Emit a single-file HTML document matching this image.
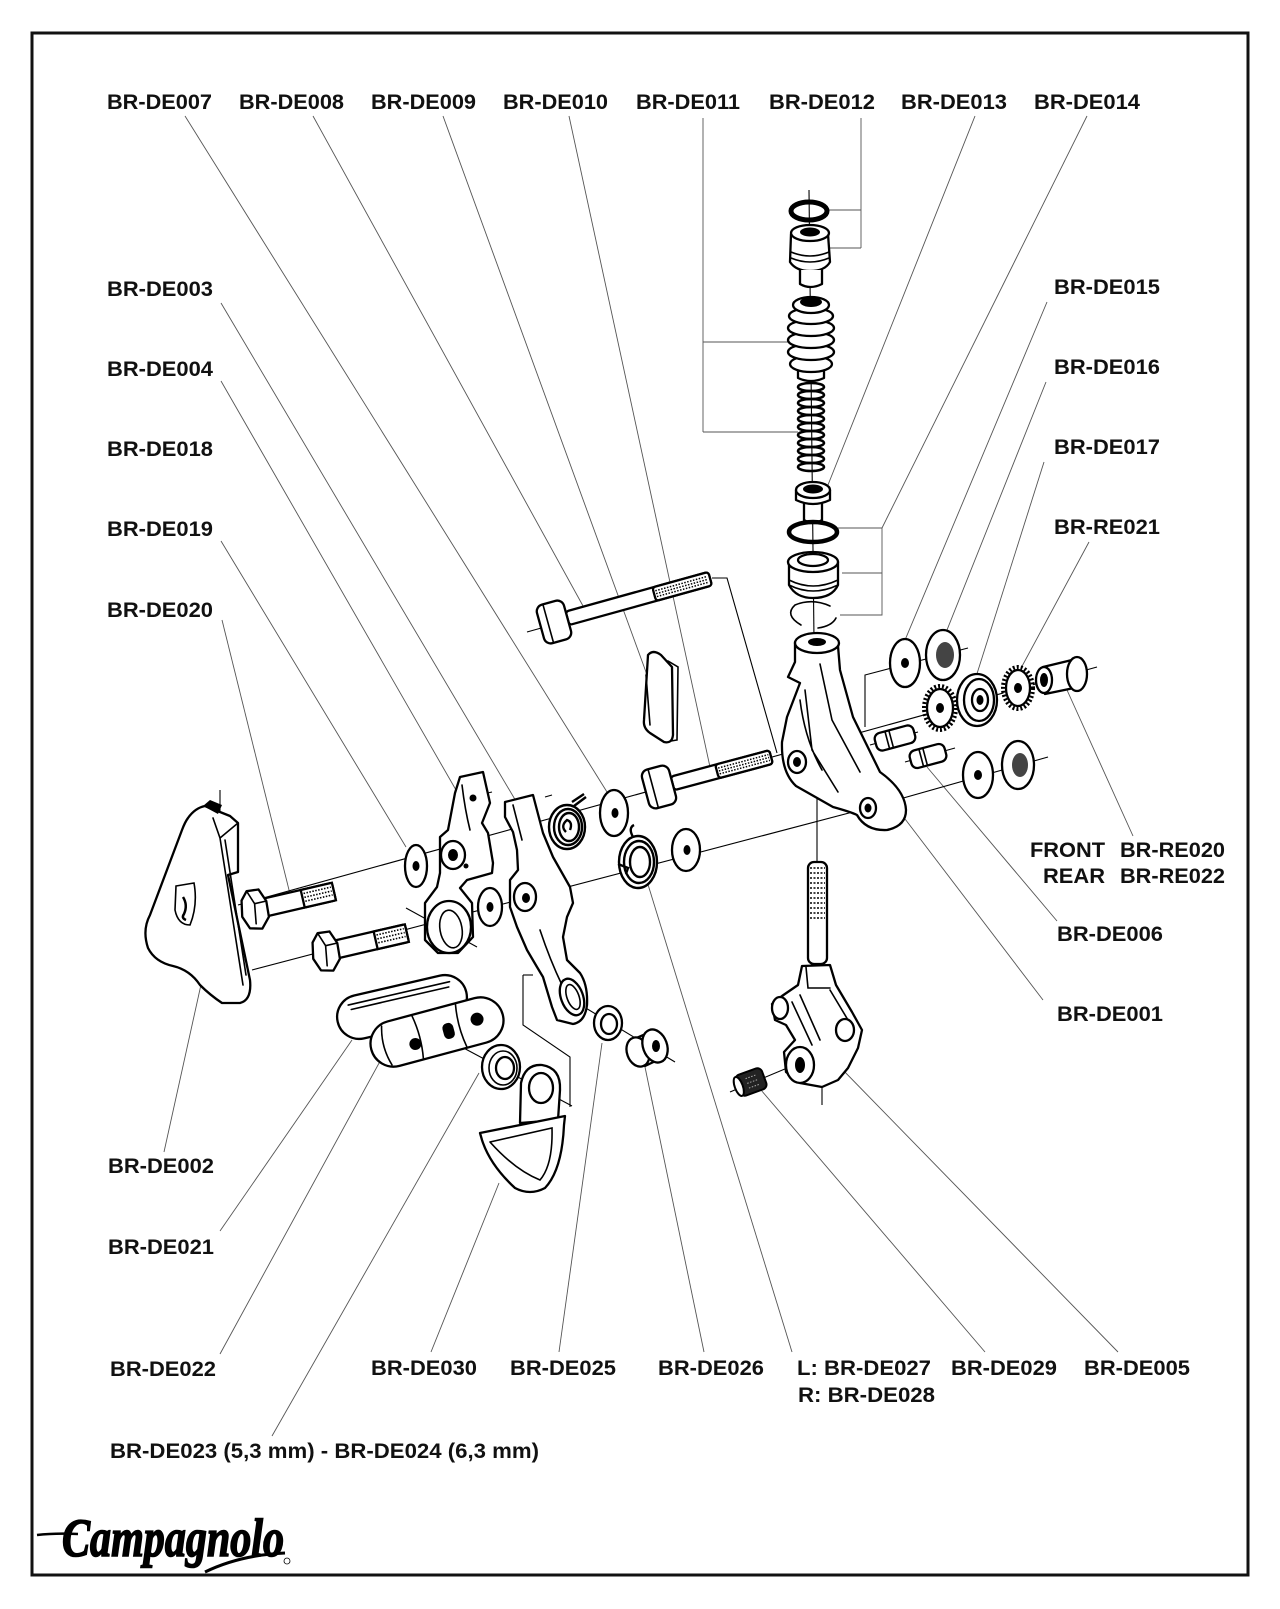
<!DOCTYPE html>
<html><head><meta charset="utf-8"><style>
html,body{margin:0;padding:0;background:#fff}
svg{display:block}
.l{font-family:"Liberation Sans",Arial,sans-serif;font-weight:bold;font-size:21px;fill:#111}
.p{fill:#fff;stroke:#000;stroke-width:2.3;stroke-linejoin:round;stroke-linecap:round}
.t{fill:none;stroke:#000;stroke-width:1.6;stroke-linecap:round}
.k{fill:#000}
.ld{fill:none;stroke:#555;stroke-width:0.9}
.ax{fill:none;stroke:#000;stroke-width:1.1}
</style></head><body>
<svg width="1280" height="1609" viewBox="0 0 1280 1609" xmlns="http://www.w3.org/2000/svg">
<rect x="0" y="0" width="1280" height="1609" fill="#fff"/>
<rect x="32" y="33" width="1216" height="1542" fill="none" stroke="#111" stroke-width="3"/>

<!-- ===== leader lines ===== -->
<g class="ld">
<line x1="185" y1="116" x2="612" y2="800"/>
<line x1="313" y1="116" x2="588" y2="615"/>
<line x1="443" y1="116" x2="650" y2="683"/>
<line x1="569" y1="116" x2="710" y2="767"/>
<polyline points="703,118 703,432"/>
<line x1="703" y1="342" x2="790" y2="342"/>
<line x1="703" y1="432" x2="798" y2="432"/>
<polyline points="861,118 861,248"/>
<line x1="828" y1="210" x2="861" y2="210"/>
<line x1="828" y1="248" x2="861" y2="248"/>
<line x1="975" y1="116" x2="820" y2="505"/>
<line x1="1087" y1="116" x2="882" y2="528"/>
<polyline points="838,528 882,528 882,615 840,615"/>
<line x1="842" y1="573" x2="882" y2="573"/>
<line x1="1047" y1="302" x2="900" y2="652"/>
<line x1="1046" y1="382" x2="943" y2="640"/>
<line x1="1044" y1="462" x2="975" y2="680"/>
<line x1="1089" y1="542" x2="1020" y2="670"/>
<line x1="1133" y1="836" x2="1067" y2="690"/>
<line x1="1057" y1="921" x2="927" y2="767"/>
<line x1="1043" y1="1000" x2="902" y2="815"/>
<line x1="221" y1="303" x2="523" y2="813"/>
<line x1="221" y1="381" x2="456" y2="790"/>
<line x1="221" y1="541" x2="406" y2="847"/>
<line x1="222" y1="620" x2="291" y2="898"/>
<line x1="164" y1="1152" x2="206" y2="962"/>
<line x1="220" y1="1231" x2="352" y2="1040"/>
<line x1="220" y1="1354" x2="390" y2="1043"/>
<line x1="272" y1="1436" x2="479" y2="1073"/>
<line x1="431" y1="1352" x2="499" y2="1183"/>
<line x1="559" y1="1352" x2="602" y2="1043"/>
<line x1="704" y1="1352" x2="645" y2="1067"/>
<line x1="792" y1="1352" x2="646" y2="878"/>
<line x1="985" y1="1352" x2="761" y2="1090"/>
<line x1="1118" y1="1352" x2="840" y2="1067"/>
</g>

<!-- ===== axis / guide lines ===== -->
<g class="ax">
<line x1="809" y1="190" x2="814" y2="640"/>
<line x1="817" y1="790" x2="817" y2="865"/>
<line x1="238" y1="905" x2="1097" y2="667"/>
<line x1="252" y1="970" x2="868" y2="808"/>
<line x1="868" y1="808" x2="1048" y2="757"/>
<polyline points="865,727 865,675 968,648"/>
<polyline points="712,578 727,578 777,753"/>
<line x1="527" y1="632" x2="552" y2="625"/>
<line x1="220" y1="790" x2="220" y2="815"/>
<line x1="870" y1="745" x2="918" y2="732"/>
<line x1="905" y1="762" x2="955" y2="748"/>
<polyline points="523,975 523,1025 570,1057 570,1107"/>
<line x1="523" y1="975" x2="533" y2="975"/>
<line x1="458" y1="1045" x2="572" y2="1106"/>
<line x1="556" y1="990" x2="675" y2="1062"/>
<line x1="730" y1="1092" x2="792" y2="1066"/>
<line x1="822" y1="1085" x2="822" y2="1105"/>
<line x1="406" y1="908" x2="477" y2="947"/>
<line x1="479" y1="795" x2="492" y2="792"/>
<line x1="545" y1="797" x2="552" y2="795"/>
</g>

<!-- ===== top spring column ===== -->
<ellipse cx="809" cy="211" rx="18" ry="9" fill="none" stroke="#000" stroke-width="5"/>
<path class="p" d="M791,234 L790,262 Q796,271 810,271 Q825,271 830,262 L828,234 Z"/>
<path class="p" d="M800,270 L800,284 Q810,290 822,284 L822,270"/>
<ellipse class="p" cx="810" cy="233" rx="19" ry="8"/>
<ellipse class="k" cx="810" cy="232" rx="10" ry="4.5"/>
<path class="t" d="M791,252 Q810,260 829,252 M791,258 Q810,266 829,258"/>
<!-- bellows -->
<path class="p" d="M798,368 L798,378 Q811,384 824,378 L824,368 Z"/>
<g class="p" stroke-width="2.4">
<ellipse cx="811" cy="364" rx="21" ry="8"/>
<ellipse cx="811" cy="352" rx="23" ry="8"/>
<ellipse cx="811" cy="340" rx="23" ry="8"/>
<ellipse cx="811" cy="328" rx="23" ry="8"/>
<ellipse cx="811" cy="316" rx="22" ry="8"/>
<ellipse cx="811" cy="305" rx="18" ry="8"/>
</g>
<ellipse class="k" cx="811" cy="302" rx="11" ry="5"/>
<!-- spring -->
<g fill="none" stroke="#000" stroke-width="2.6">
<ellipse cx="811" cy="387" rx="13" ry="4"/><ellipse cx="811" cy="395" rx="13" ry="4"/><ellipse cx="811" cy="403" rx="13" ry="4"/>
<ellipse cx="811" cy="411" rx="13" ry="4"/><ellipse cx="811" cy="419" rx="13" ry="4"/><ellipse cx="811" cy="427" rx="13" ry="4"/>
<ellipse cx="811" cy="435" rx="13" ry="4"/><ellipse cx="811" cy="443" rx="13" ry="4"/><ellipse cx="811" cy="451" rx="13" ry="4"/>
<ellipse cx="811" cy="459" rx="13" ry="4"/><ellipse cx="811" cy="467" rx="13" ry="4"/>
</g>
<!-- top hat nut -->
<path class="p" d="M804,496 L804,520 Q813,526 822,520 L822,496"/>
<path class="p" d="M796,490 L796,500 Q813,508 830,500 L830,490"/>
<ellipse class="p" cx="813" cy="490" rx="17" ry="8"/>
<ellipse class="k" cx="813" cy="489" rx="10" ry="4.5"/>
<ellipse cx="813" cy="532" rx="24" ry="10" fill="none" stroke="#000" stroke-width="4.5"/>
<!-- bushing -->
<path class="p" d="M789,562 L789,585 Q796,598 813,598 Q832,598 838,585 L838,562 Z"/>
<ellipse class="p" cx="813" cy="562" rx="25" ry="10"/>
<ellipse class="p" cx="813" cy="560" rx="15" ry="6"/>
<path class="t" d="M789,580 Q813,592 838,580 M789,585 Q813,597 838,585" stroke-width="2.5"/>
<path class="t" d="M830,606 Q812,598 795,605 Q784,615 801,625 M818,628 Q832,626 836,618" stroke-width="2.4"/>

<!-- ===== pivot body ===== -->
<path class="p" d="M795,642 L795,662 L788,677 L800,683 L787,717 L782,742 Q781,772 796,786 L833,807 Q851,812 857,815 Q866,831 887,830 Q906,826 906,810 Q905,790 880,772 L853,717 L840,670 L838,646 Z"/>
<path class="t" d="M805,690 L812,750 L838,792 M820,664 L832,720 L860,772 M800,700 Q805,740 822,770" stroke-width="1.8"/>
<ellipse class="p" cx="817" cy="643" rx="22" ry="10" stroke-width="3"/>
<ellipse class="k" cx="817" cy="642" rx="9" ry="4"/>
<ellipse class="p" cx="797" cy="762" rx="9" ry="11"/>
<ellipse class="k" cx="797" cy="762" rx="4" ry="5"/>
<ellipse class="p" cx="868" cy="808" rx="8" ry="10"/>
<ellipse class="k" cx="868" cy="808" rx="3.5" ry="4.5"/>

<!-- right washers / gears -->
<ellipse class="p" cx="905" cy="663" rx="15" ry="24"/>
<ellipse class="k" cx="905" cy="663" rx="4" ry="5"/>
<ellipse class="p" cx="943" cy="655" rx="17" ry="25" stroke-width="3"/>
<ellipse cx="945" cy="655" rx="9" ry="13" fill="#444"/>
<ellipse cx="940" cy="708" rx="16" ry="22" fill="#fff" stroke="#000" stroke-width="4" stroke-dasharray="2 2"/>
<ellipse class="p" cx="940" cy="708" rx="13" ry="19"/>
<ellipse class="k" cx="940" cy="708" rx="4" ry="5"/>
<ellipse class="p" cx="977" cy="700" rx="20" ry="26" stroke-width="3.5"/>
<ellipse class="p" cx="979" cy="700" rx="15" ry="21" stroke-width="3"/>
<ellipse class="p" cx="980" cy="700" rx="8" ry="11"/>
<ellipse class="k" cx="980" cy="700" rx="3.5" ry="5"/>
<ellipse cx="1018" cy="688" rx="15" ry="21" fill="#fff" stroke="#000" stroke-width="4" stroke-dasharray="2 2"/>
<ellipse class="p" cx="1018" cy="688" rx="12" ry="18"/>
<ellipse class="k" cx="1018" cy="688" rx="4" ry="5"/>
<path class="p" d="M1043,667 L1072,660 L1074,688 L1045,694 Z"/>
<ellipse class="p" cx="1077" cy="674" rx="10" ry="17"/>
<ellipse class="p" cx="1044" cy="680" rx="8" ry="13"/>
<ellipse class="k" cx="1044" cy="680" rx="4" ry="7"/>
<ellipse class="p" cx="978" cy="775" rx="15" ry="23"/>
<ellipse class="k" cx="978" cy="775" rx="4" ry="5"/>
<ellipse class="p" cx="1018" cy="765" rx="16" ry="24" stroke-width="3"/>
<ellipse cx="1020" cy="765" rx="8" ry="12" fill="#444"/>
<!-- pins -->
<g transform="translate(895,738) rotate(-15)"><rect class="p" x="-20" y="-9" width="40" height="18" rx="6"/><line class="t" x1="-8" y1="-9" x2="-8" y2="9"/><line class="t" x1="-4" y1="-9" x2="-4" y2="9"/></g>
<g transform="translate(928,756) rotate(-15)"><rect class="p" x="-18" y="-9" width="36" height="18" rx="6"/><line class="t" x1="-7" y1="-9" x2="-7" y2="9"/><line class="t" x1="-3" y1="-9" x2="-3" y2="9"/></g>

<!-- long bolt DE008 -->
<g transform="translate(554,622) rotate(-15.5)">
<rect class="p" x="14" y="-7" width="148" height="14" rx="3"/>
<rect x="104" y="-7" width="58" height="14" rx="3" fill="#fff" stroke="#000" stroke-width="2.3"/>
<path d="M106,-3 H160 M106,0 H160 M106,3 H160" stroke="#000" stroke-width="1.5" stroke-dasharray="1.5 1.5"/>
<rect class="p" x="-14" y="-20" width="28" height="40" rx="7"/>
<line class="t" x1="-6" y1="-20" x2="-6" y2="20"/>
</g>
<!-- short bolt DE010 -->
<g transform="translate(659,787) rotate(-15)">
<rect class="p" x="14" y="-7" width="102" height="14" rx="3"/>
<rect x="60" y="-7" width="56" height="14" rx="3" fill="#fff" stroke="#000" stroke-width="2.3"/>
<path d="M62,-3 H114 M62,0 H114 M62,3 H114" stroke="#000" stroke-width="1.5" stroke-dasharray="1.5 1.5"/>
<rect class="p" x="-14" y="-20" width="28" height="40" rx="7"/>
<line class="t" x1="-6" y1="-20" x2="-6" y2="20"/>
</g>
<!-- clip plate DE009 -->
<path class="p" d="M648,655 Q653,649 661,655 L672,667 L673,735 Q672,744 664,742 L650,733 Q643,728 644,720 Z"/>
<path class="t" d="M668,661 L678,667 L677,740 L671,741 M646,675 L650,725"/>

<!-- washers & springs left of pivot -->
<ellipse class="p" cx="614" cy="813" rx="14" ry="23"/>
<ellipse class="k" cx="615" cy="813" rx="3.5" ry="5"/>
<ellipse class="p" cx="686" cy="850" rx="14" ry="21"/>
<ellipse class="k" cx="687" cy="850" rx="3.5" ry="5"/>
<g fill="none" stroke="#000" stroke-width="2.4">
<ellipse cx="567" cy="827" rx="18" ry="22" fill="#fff"/>
<ellipse cx="568" cy="827" rx="14" ry="18"/>
<ellipse cx="569" cy="827" rx="10" ry="14"/>
<path d="M566,832 Q560,826 567,820 Q573,822 570,830"/>
<path d="M574,806 L586,797 M572,802 L584,794"/>
<ellipse cx="638" cy="862" rx="19" ry="26" fill="#fff"/>
<ellipse cx="639" cy="862" rx="15" ry="21"/>
<ellipse cx="640" cy="862" rx="10" ry="15"/>
<path d="M633,837 Q628,828 634,825 M618,864 L628,868 L626,874"/>
</g>

<!-- arm DE003 -->
<path class="p" d="M505,802 L533,795 L543,833 L553,857 L570,887 L573,903 L567,917 L563,937 L567,960 L580,973 Q588,985 587,1005 Q585,1022 573,1024 L557,1020 L552,1007 L543,977 L537,967 L527,950 L517,927 L510,907 L510,880 L518,870 L517,850 L513,832 L505,817 Z"/>
<path class="t" d="M513,805 L522,840 M540,930 Q550,960 562,985" stroke-width="1.8"/>
<ellipse class="p" cx="525" cy="897" rx="11" ry="14"/>
<ellipse class="k" cx="526" cy="898" rx="4" ry="5"/>
<ellipse class="p" cx="572" cy="997" rx="11" ry="19" transform="rotate(-20 572 997)" stroke-width="2.8"/>
<ellipse class="t" cx="573" cy="997" rx="6" ry="13" transform="rotate(-20 573 997)"/>

<!-- plate DE004 -->
<path class="p" d="M460,777 L483,772 L490,803 L482,823 L488,833 L493,863 L492,873 L467,880 L460,888 L472,903 L473,937 L458,953 L438,953 L425,940 L425,903 L437,887 L440,873 L440,837 L448,830 L455,793 Z"/>
<ellipse class="p" cx="449" cy="927" rx="22" ry="26" stroke-width="2.8"/>
<ellipse class="t" cx="451" cy="929" rx="11" ry="19" transform="rotate(-10 451 929)" stroke-width="2.6"/>
<ellipse class="p" cx="453" cy="855" rx="12" ry="14"/>
<ellipse class="k" cx="453" cy="855" rx="5" ry="6"/>
<circle class="k" cx="473" cy="798" r="3.5"/>
<circle class="k" cx="466" cy="866" r="2.5"/>
<path class="t" d="M462,785 Q465,810 470,830" stroke-width="1.6"/>
<ellipse class="p" cx="416" cy="866" rx="11" ry="21" stroke-width="2.6"/>
<ellipse class="k" cx="416" cy="866" rx="3.5" ry="5"/>
<ellipse class="p" cx="490" cy="907" rx="12" ry="19" stroke-width="2.6"/>
<ellipse class="k" cx="490" cy="907" rx="3.5" ry="5"/>

<!-- cover DE002 -->
<path class="p" d="M188,818 Q195,808 205,806 L230,816 L238,823 L238,872 L228,875 L250,980 Q252,1000 240,1003 L222,1003 Q210,995 200,985 Q190,970 173,966 Q155,962 148,948 Q142,930 150,915 L182,830 Q185,822 188,818 Z" stroke-width="2.6"/>
<path class="t" d="M213,818 L220,838 L238,823 M220,838 L243,985 M225,840 L246,975"/>
<path d="M203,806 L210,800 L222,805 L218,814 Z" fill="#000"/>
<path class="t" d="M176,886 L194,883 Q198,905 190,925 Q178,925 175,910 Z" stroke-width="1.5"/>
<path d="M183,897 Q188,905 184,914 Q181,918 186,920" fill="none" stroke="#000" stroke-width="2.5"/>

<!-- bolts DE020 -->
<g transform="translate(254,910) rotate(-13)">
<rect class="p" x="10" y="-9" width="72" height="18" rx="2"/>
<rect x="50" y="-9" width="32" height="18" fill="#fff" stroke="#000" stroke-width="2.3"/>
<path d="M52,-5 H80 M52,-1 H80 M52,3 H80" stroke="#000" stroke-width="1.6" stroke-dasharray="1.5 1.5"/>
<path class="p" d="M-10,-12 L-3,-20 L9,-19 L14,-6 L13,10 L4,20 L-8,17 L-13,4 Z"/>
<path class="t" d="M-3,-20 L2,-6 L13,-6 M2,-6 L-1,14"/>
</g>
<g transform="translate(325,952) rotate(-13)">
<rect class="p" x="10" y="-9" width="74" height="18" rx="2"/>
<rect x="52" y="-9" width="32" height="18" fill="#fff" stroke="#000" stroke-width="2.3"/>
<path d="M54,-5 H82 M54,-1 H82 M54,3 H82" stroke="#000" stroke-width="1.6" stroke-dasharray="1.5 1.5"/>
<path class="p" d="M-10,-12 L-3,-20 L9,-19 L14,-6 L13,10 L4,20 L-8,17 L-13,4 Z"/>
<path class="t" d="M-3,-20 L2,-6 L13,-6 M2,-6 L-1,14"/>
</g>

<!-- brake shoe holder -->
<g transform="translate(402,1007) rotate(-13)">
<rect class="p" x="-66" y="-22" width="132" height="44" rx="22" stroke-width="2.8"/>
<path class="t" d="M-52,-14 H52 M-50,-9 H50"/>
</g>
<g transform="translate(437,1032) rotate(-15)">
<rect class="p" x="-68" y="-23" width="136" height="46" rx="23" stroke-width="2.8"/>
<path class="t" d="M-52,-20 Q-58,0 -52,20 M-20,-22 Q-16,0 -20,22 M25,-22 Q21,0 25,22"/>
<circle class="k" cx="-24" cy="6" r="6"/>
<circle class="k" cx="42" cy="-2" r="6.5"/>
<rect class="k" x="6" y="-6" width="11" height="16" rx="5"/>
</g>
<!-- washer DE023 -->
<ellipse class="p" cx="501" cy="1067" rx="19" ry="22" stroke-width="3.5"/>
<ellipse class="t" cx="503" cy="1068" rx="14" ry="17" stroke-width="2.5"/>
<ellipse class="p" cx="505" cy="1068" rx="9" ry="11"/>
<!-- cable guide DE030 -->
<path class="p" d="M520,1123 L521,1083 Q525,1064 542,1065 Q561,1068 560,1090 L558,1120 Z" stroke-width="2.6"/>
<ellipse class="p" cx="541" cy="1088" rx="12" ry="15"/>
<path class="p" d="M480,1133 L565,1116 L564,1125 Q562,1170 545,1188 Q530,1196 515,1188 Q490,1165 482,1140 Z" stroke-width="2.8"/>
<path class="t" d="M490,1142 L552,1128 Q553,1165 540,1180 Q515,1170 490,1142" stroke-width="2"/>
<!-- washer DE025 / bushing DE026 -->
<ellipse class="p" cx="608" cy="1023" rx="14" ry="17" stroke-width="3.5"/>
<ellipse class="p" cx="609" cy="1024" rx="8" ry="10"/>
<path class="p" d="M632,1040 L650,1032 L662,1058 L645,1066 Z"/>
<ellipse class="p" cx="638" cy="1052" rx="11" ry="15" transform="rotate(-20 638 1052)" stroke-width="2.6"/>
<ellipse class="p" cx="655" cy="1046" rx="12" ry="17" transform="rotate(-20 655 1046)" stroke-width="2.6"/>
<ellipse class="k" cx="656" cy="1046" rx="4" ry="6"/>

<!-- stud DE027/028 -->
<rect class="p" x="808" y="862" width="19" height="102" rx="6"/>
<path d="M810,868 H825 M810,873 H825 M810,878 H825 M810,883 H825 M810,888 H825 M810,893 H825 M810,898 H825 M810,903 H825 M810,908 H825 M810,913 H825 M810,918 H825" stroke="#000" stroke-width="1.6" stroke-dasharray="2 1.5"/>
<!-- bracket DE005 -->
<path class="p" d="M802,966 L830,965 L836,985 L852,1012 L862,1030 L858,1048 L848,1068 L838,1080 L822,1087 L800,1083 L786,1072 L784,1052 L795,1040 L786,1025 L775,1020 L772,1004 L782,996 L798,985 Z"/>
<path class="t" d="M806,967 L808,988 L830,988 M800,995 L820,1040 M792,1002 L812,1045 M830,990 L848,1020"/>
<ellipse class="p" cx="780" cy="1008" rx="8" ry="11"/>
<ellipse class="p" cx="845" cy="1030" rx="9" ry="11"/>
<ellipse class="p" cx="800" cy="1065" rx="14" ry="18" stroke-width="2.6"/>
<ellipse class="k" cx="800" cy="1065" rx="5" ry="8"/>
<!-- grub screw DE029 -->
<g transform="translate(751,1082) rotate(-20)">
<rect x="-14" y="-11" width="28" height="22" rx="5" fill="#222" stroke="#000" stroke-width="2"/>
<ellipse cx="-13" cy="0" rx="4" ry="10" fill="#fff" stroke="#000" stroke-width="2"/>
<path d="M-4,-5 H8 M-4,0 H8 M-4,5 H8" stroke="#aaa" stroke-width="1" stroke-dasharray="1.5 1.5"/>
</g>

<!-- ===== labels ===== -->
<g class="l">
<text x="107" y="109" textLength="105" lengthAdjust="spacingAndGlyphs">BR-DE007</text>
<text x="239" y="109" textLength="105" lengthAdjust="spacingAndGlyphs">BR-DE008</text>
<text x="371" y="109" textLength="105" lengthAdjust="spacingAndGlyphs">BR-DE009</text>
<text x="503" y="109" textLength="105" lengthAdjust="spacingAndGlyphs">BR-DE010</text>
<text x="636" y="109" textLength="104" lengthAdjust="spacingAndGlyphs">BR-DE011</text>
<text x="769" y="109" textLength="106" lengthAdjust="spacingAndGlyphs">BR-DE012</text>
<text x="901" y="109" textLength="106" lengthAdjust="spacingAndGlyphs">BR-DE013</text>
<text x="1034" y="109" textLength="106" lengthAdjust="spacingAndGlyphs">BR-DE014</text>

<text x="107" y="296" textLength="106" lengthAdjust="spacingAndGlyphs">BR-DE003</text>
<text x="107" y="376" textLength="106" lengthAdjust="spacingAndGlyphs">BR-DE004</text>
<text x="107" y="456" textLength="106" lengthAdjust="spacingAndGlyphs">BR-DE018</text>
<text x="107" y="536" textLength="106" lengthAdjust="spacingAndGlyphs">BR-DE019</text>
<text x="107" y="617" textLength="106" lengthAdjust="spacingAndGlyphs">BR-DE020</text>

<text x="1054" y="294" textLength="106" lengthAdjust="spacingAndGlyphs">BR-DE015</text>
<text x="1054" y="374" textLength="106" lengthAdjust="spacingAndGlyphs">BR-DE016</text>
<text x="1054" y="454" textLength="106" lengthAdjust="spacingAndGlyphs">BR-DE017</text>
<text x="1054" y="534" textLength="106" lengthAdjust="spacingAndGlyphs">BR-RE021</text>

<text x="1030" y="857" textLength="75" lengthAdjust="spacingAndGlyphs">FRONT</text>
<text x="1120" y="857" textLength="105" lengthAdjust="spacingAndGlyphs">BR-RE020</text>
<text x="1043" y="883" textLength="62" lengthAdjust="spacingAndGlyphs">REAR</text>
<text x="1120" y="883" textLength="105" lengthAdjust="spacingAndGlyphs">BR-RE022</text>

<text x="1057" y="941" textLength="106" lengthAdjust="spacingAndGlyphs">BR-DE006</text>
<text x="1057" y="1021" textLength="106" lengthAdjust="spacingAndGlyphs">BR-DE001</text>

<text x="108" y="1173" textLength="106" lengthAdjust="spacingAndGlyphs">BR-DE002</text>
<text x="108" y="1254" textLength="106" lengthAdjust="spacingAndGlyphs">BR-DE021</text>
<text x="110" y="1376" textLength="106" lengthAdjust="spacingAndGlyphs">BR-DE022</text>

<text x="371" y="1375" textLength="106" lengthAdjust="spacingAndGlyphs">BR-DE030</text>
<text x="510" y="1375" textLength="106" lengthAdjust="spacingAndGlyphs">BR-DE025</text>
<text x="658" y="1375" textLength="106" lengthAdjust="spacingAndGlyphs">BR-DE026</text>
<text x="797" y="1375" textLength="134" lengthAdjust="spacingAndGlyphs">L: BR-DE027</text>
<text x="951" y="1375" textLength="106" lengthAdjust="spacingAndGlyphs">BR-DE029</text>
<text x="1084" y="1375" textLength="106" lengthAdjust="spacingAndGlyphs">BR-DE005</text>
<text x="798" y="1402" textLength="137" lengthAdjust="spacingAndGlyphs">R: BR-DE028</text>

<text x="110" y="1458" textLength="429" lengthAdjust="spacingAndGlyphs">BR-DE023 (5,3 mm) - BR-DE024 (6,3 mm)</text>
</g>

<!-- logo -->
<path d="M37,1535 Q55,1533 78,1534" fill="none" stroke="#000" stroke-width="2.5"/>
<text x="62" y="1556" textLength="222" lengthAdjust="spacingAndGlyphs" style="font-family:'Liberation Serif',serif;font-style:italic;font-weight:bold;font-size:54px;fill:#000;stroke:#000;stroke-width:1.6">Campagnolo</text>
<path d="M205,1572 Q240,1555 285,1553" fill="none" stroke="#000" stroke-width="3"/>
<circle cx="287" cy="1561" r="3" fill="none" stroke="#000" stroke-width="0.8"/>
</svg>
</body></html>
